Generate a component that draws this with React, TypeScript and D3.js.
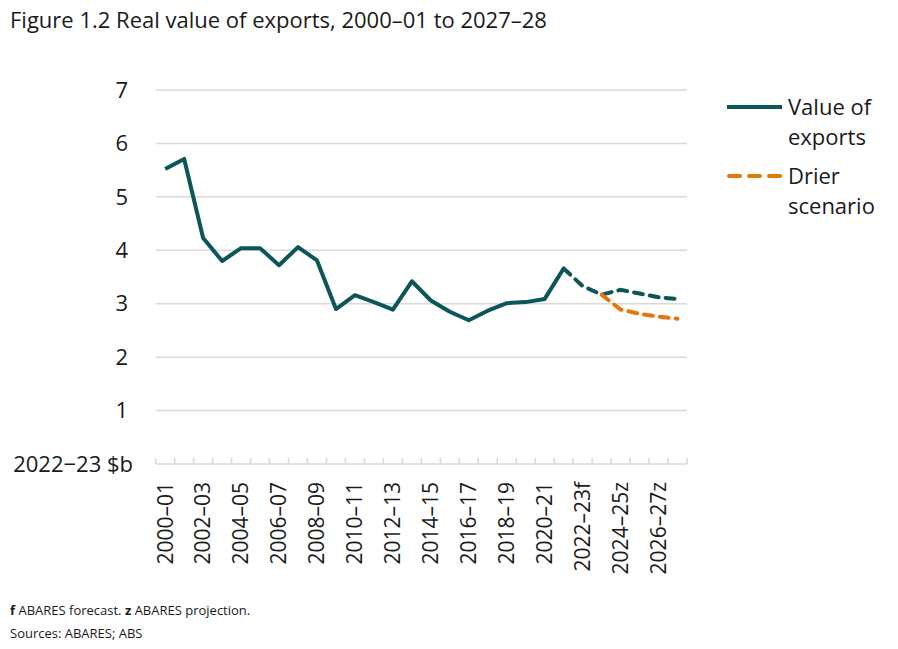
import React from "react";
import * as d3 from "d3";

const categories = [
  "2000–01","2001–02","2002–03","2003–04","2004–05","2005–06","2006–07","2007–08","2008–09","2009–10",
  "2010–11","2011–12","2012–13","2013–14","2014–15","2015–16","2016–17","2017–18","2018–19","2019–20",
  "2020–21","2021–22","2022–23f","2023–24z","2024–25z","2025–26z","2026–27z","2027–28z",
];
const valueOfExports = [
  5.52, 5.71, 4.23, 3.8, 4.04, 4.04, 3.72, 4.06, 3.81, 2.9,
  3.16, 3.03, 2.89, 3.42, 3.06, 2.85, 2.69, 2.87, 3.01, 3.03,
  3.09, 3.66, 3.33, 3.17, 3.26, 3.19, 3.12, 3.09,
];
const drierScenario: (number | null)[] = [
  null, null, null, null, null, null, null, null, null, null,
  null, null, null, null, null, null, null, null, null, null,
  null, null, null, 3.17, 2.89, 2.81, 2.76, 2.72,
];
const yTicks = [1, 2, 3, 4, 5, 6, 7];
const forecastStartIndex = 21;
const title = "Figure 1.2 Real value of exports, 2000–01 to 2027–28";
const yUnit = "2022−23 $b";
const legendItems = [
  { lines: ["Value of", "exports"], key: "value" },
  { lines: ["Drier", "scenario"], key: "drier" },
];

const TEAL = "#0d5657";
const ORANGE = "#e8760f";
const FONT = "'Open Sans', 'Noto Sans', sans-serif";

export default function App() {
  const W = 898, H = 649;
  const left = 155.7, right = 687, top = 90, bottom = 464;
  const x = d3.scaleBand<string>().domain(categories).range([left, right]).padding(0);
  const y = d3.scaleLinear().domain([0, 7]).range([bottom, top]);
  const cx = (i: number) => (x(categories[i]) as number) + x.bandwidth() / 2;

  const line = d3.line<[number, number]>().x(d => d[0]).y(d => d[1]);
  const solidPts: [number, number][] = valueOfExports
    .slice(0, forecastStartIndex + 1)
    .map((v, i) => [cx(i), y(v)]);
  const dashPts: [number, number][] = valueOfExports
    .map((v, i) => [cx(i), y(v)] as [number, number])
    .slice(forecastStartIndex);
  const drierPts: [number, number][] = drierScenario
    .map((v, i) => (v == null ? null : ([cx(i), y(v)] as [number, number])))
    .filter((d): d is [number, number] => d !== null);

  const tickXs = categories.map(c => x(c) as number).concat([right]);

  return (
    <div style={{ position: "absolute", left: 0, top: 0 }}>
      <svg width={W} height={H} style={{ display: "block", fontFamily: FONT }}>
        <rect width={W} height={H} fill="#fff" />
        <text x={10} y={28} fontSize={22} fill="#1a1a1a">{title}</text>

        {yTicks.map(t => (
          <g key={t}>
            <line x1={left} x2={right} y1={y(t)} y2={y(t)} stroke="#d9d9d9" strokeWidth={1.5} />
            <text x={128} y={y(t)} dy="0.35em" fontSize={22} textAnchor="end" fill="#1a1a1a">{t}</text>
          </g>
        ))}
        <text x={133} y={bottom} dy="0.35em" fontSize={22} textAnchor="end" fill="#1a1a1a">{yUnit}</text>

        <line x1={left} x2={right} y1={bottom} y2={bottom} stroke="#d9d9d9" strokeWidth={1.5} />
        {tickXs.map((tx, i) => (
          <line key={i} x1={tx} x2={tx} y1={bottom} y2={bottom - 6} stroke="#d9d9d9" strokeWidth={1.5} />
        ))}
        {categories.map((c, i) =>
          i % 2 === 0 ? (
            <text key={c} transform={`translate(${cx(i)},${bottom + 18}) rotate(-90)`} dy="0.35em"
              fontSize={21} textAnchor="end" fill="#1a1a1a">{c}</text>
          ) : null
        )}

        <path d={line(solidPts) || ""} fill="none" stroke={TEAL} strokeWidth={4} strokeLinejoin="round" />
        <path d={line(dashPts) || ""} fill="none" stroke={TEAL} strokeWidth={4} strokeDasharray="9 7" strokeLinecap="round" />
        <path d={line(drierPts) || ""} fill="none" stroke={ORANGE} strokeWidth={4} strokeDasharray="9 7" strokeLinecap="round" />

        {legendItems.map((it, k) => {
          const ly = k === 0 ? 107 : 176;
          return (
            <g key={it.key}>
              {it.key === "value" ? (
                <line x1={727} x2={782} y1={ly} y2={ly} stroke={TEAL} strokeWidth={4} />
              ) : (
                <line x1={729} x2={780} y1={ly} y2={ly} stroke={ORANGE} strokeWidth={4} strokeDasharray="11 9" strokeLinecap="round" />
              )}
              {it.lines.map((s, j) => (
                <text key={j} x={788} y={ly + j * 30} dy="0.35em" fontSize={22} fill="#1a1a1a">{s}</text>
              ))}
            </g>
          );
        })}

        <text x={10} y={615} fontSize={13} fill="#1a1a1a">
          <tspan fontWeight="bold">f</tspan> ABARES forecast. <tspan fontWeight="bold">z</tspan> ABARES projection.
        </text>
        <text x={10} y={638} fontSize={13} fill="#1a1a1a">Sources: ABARES; ABS</text>
      </svg>
    </div>
  );
}
